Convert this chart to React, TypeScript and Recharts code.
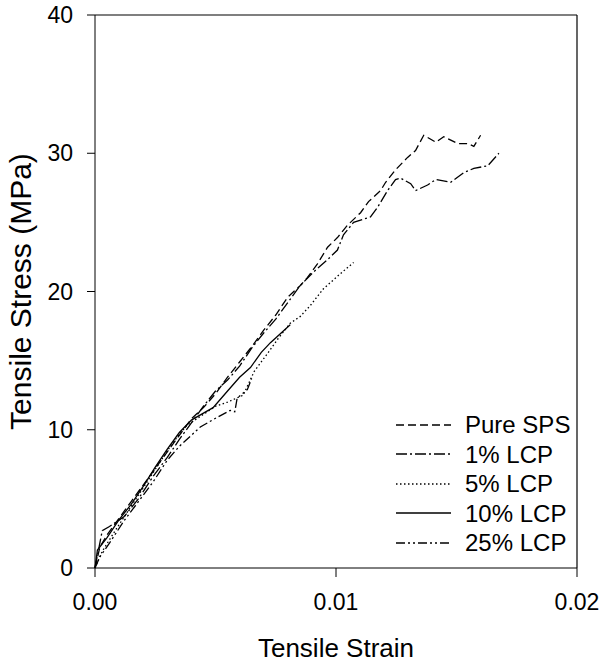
import { LineChart, Line, XAxis, YAxis, ReferenceLine } from "recharts";

type Pt = { strain: number; stress: number };

const toPts = (rows: number[][]): Pt[] => rows.map(([strain, stress]) => ({ strain, stress }));

const pureSps = toPts([
  [0, 0], [0.0002, 1.5], [0.0005, 2.4], [0.001, 3.6], [0.0015, 4.8], [0.002, 6.0], [0.0025, 7.2],
  [0.003, 8.4], [0.0035, 9.6], [0.004, 10.8], [0.0045, 11.6], [0.005, 12.6], [0.0055, 13.8],
  [0.006, 14.9], [0.0065, 16.0], [0.007, 17.2], [0.0075, 18.3], [0.008, 19.6], [0.0085, 20.4],
  [0.00881, 21.0], [0.00923, 22.0], [0.00965, 23.2], [0.01006, 23.9], [0.01048, 24.8],
  [0.01102, 25.7], [0.01135, 26.5], [0.01185, 27.3], [0.01206, 27.9], [0.01247, 28.8],
  [0.01297, 29.7], [0.0133, 30.2], [0.01364, 31.3], [0.01414, 30.8], [0.01447, 31.2],
  [0.01505, 30.7], [0.01547, 30.7], [0.01572, 30.5], [0.016, 31.3],
]);

const lcp1 = toPts([
  [0, 0], [0.0003, 2.7], [0.0006, 3.0], [0.0012, 3.7], [0.0018, 5.0], [0.0024, 6.6], [0.003, 8.0],
  [0.0035, 9.3], [0.004, 10.5], [0.0045, 11.7], [0.005, 12.8], [0.0055, 13.6], [0.006, 14.6],
  [0.0065, 15.9], [0.007, 17.0], [0.0075, 18.0], [0.008, 19.2], [0.0085, 20.4], [0.00906, 21.4],
  [0.00965, 22.3], [0.01006, 23.0], [0.01031, 24.1], [0.01073, 25.0], [0.01143, 25.4],
  [0.01173, 26.1], [0.01214, 27.3], [0.01247, 28.1], [0.01268, 28.2], [0.0131, 27.8],
  [0.0133, 27.3], [0.0138, 27.7], [0.01414, 28.1], [0.01476, 27.9], [0.0153, 28.6],
  [0.01572, 28.9], [0.0163, 29.1], [0.01676, 30.0],
]);

const lcp5 = toPts([
  [0, 0], [0.0003, 1.2], [0.0008, 2.6], [0.0014, 4.2], [0.002, 5.8], [0.0026, 7.4], [0.0032, 9.0],
  [0.0038, 10.3], [0.0044, 11.0], [0.005, 11.7], [0.0055, 12.0], [0.00615, 12.5], [0.0066, 14.2],
  [0.00715, 15.5], [0.0076, 16.6], [0.0081, 17.7], [0.00852, 18.2], [0.00894, 19.0],
  [0.00948, 20.2], [0.01019, 21.3], [0.01073, 22.1],
]);

const lcp10 = toPts([
  [0, 0], [0.0001, 1.3], [0.0005, 2.2], [0.001, 3.5], [0.0015, 4.6], [0.002, 5.9], [0.0025, 7.3],
  [0.003, 8.6], [0.0035, 9.8], [0.004, 10.7], [0.0045, 11.2], [0.0049, 11.6], [0.0055, 12.8],
  [0.006, 13.8], [0.00645, 14.5], [0.0069, 15.6], [0.00728, 16.3], [0.0081, 17.6],
]);

const lcp25 = toPts([
  [0, 0], [0.0002, 0.8], [0.0006, 1.8], [0.0012, 3.4], [0.0018, 4.8], [0.0024, 6.2], [0.003, 7.8],
  [0.0035, 8.8], [0.004, 9.6], [0.00437, 10.2], [0.00507, 10.9], [0.00561, 11.4], [0.0058, 11.3],
  [0.0059, 12.3], [0.00632, 12.9], [0.0065, 13.7],
]);

const xTicks = [0, 0.01, 0.02];
const yTicks = [0, 10, 20, 30, 40];

const series = [
  { name: "Pure SPS", data: pureSps, dash: "8 4" },
  { name: "1% LCP", data: lcp1, dash: "11 3 2 3" },
  { name: "5% LCP", data: lcp5, dash: "1.5 2.5" },
  { name: "10% LCP", data: lcp10, dash: "" },
  { name: "25% LCP", data: lcp25, dash: "9 3 2 3 2 3" },
];

const font = "'Liberation Sans', Arial, sans-serif";
const ink = "#000";

function LegendBox() {
  return (
    <div style={{ position: "absolute", left: 396, top: 410, fontFamily: font, fontSize: 24, color: ink, lineHeight: "29.5px" }}>
      {series.map((s) => (
        <div key={s.name} style={{ display: "flex", alignItems: "center", height: 29.5 }}>
          <svg width={56} height={10} style={{ marginRight: 13 }}>
            <line x1={0} y1={5} x2={55} y2={5} stroke={ink} strokeWidth={1.3} strokeDasharray={s.dash || undefined} />
          </svg>
          <span>{s.name}</span>
        </div>
      ))}
    </div>
  );
}

export default function App() {
  return (
    <div style={{ position: "absolute", left: 0, top: 0, width: 600, height: 662, background: "#fff" }}>
      <LineChart width={600} height={662} margin={{ top: 15, right: 23, left: 0, bottom: 0 }}>
        <XAxis
          type="number"
          dataKey="strain"
          domain={[0, 0.02]}
          ticks={xTicks}
          tickFormatter={(v: number) => v.toFixed(2)}
          height={94}
          stroke={ink}
          tickSize={9}
          tickMargin={17}
          tick={{ fill: ink, fontSize: 23, fontFamily: font }}
          label={{ value: "Tensile Strain", position: "insideBottom", offset: 5, fill: ink, fontSize: 26, fontFamily: font }}
        />
        <YAxis
          type="number"
          dataKey="stress"
          domain={[0, 40]}
          ticks={yTicks}
          width={95}
          stroke={ink}
          tickSize={8}
          tickMargin={14}
          tick={{ fill: ink, fontSize: 23, fontFamily: font }}
          label={{ value: "Tensile Stress (MPa)", angle: -90, position: "insideLeft", offset: 20, fill: ink, fontSize: 30, fontFamily: font, style: { textAnchor: "middle" } }}
        />
        <ReferenceLine y={40} stroke={ink} strokeWidth={1.2} />
        <ReferenceLine x={0.02} stroke={ink} strokeWidth={1.2} />
        {series.map((s) => (
          <Line
            key={s.name}
            data={s.data}
            dataKey="stress"
            name={s.name}
            type="linear"
            stroke={ink}
            strokeWidth={1.3}
            strokeDasharray={s.dash || undefined}
            dot={false}
            isAnimationActive={false}
          />
        ))}
      </LineChart>
      <LegendBox />
    </div>
  );
}
